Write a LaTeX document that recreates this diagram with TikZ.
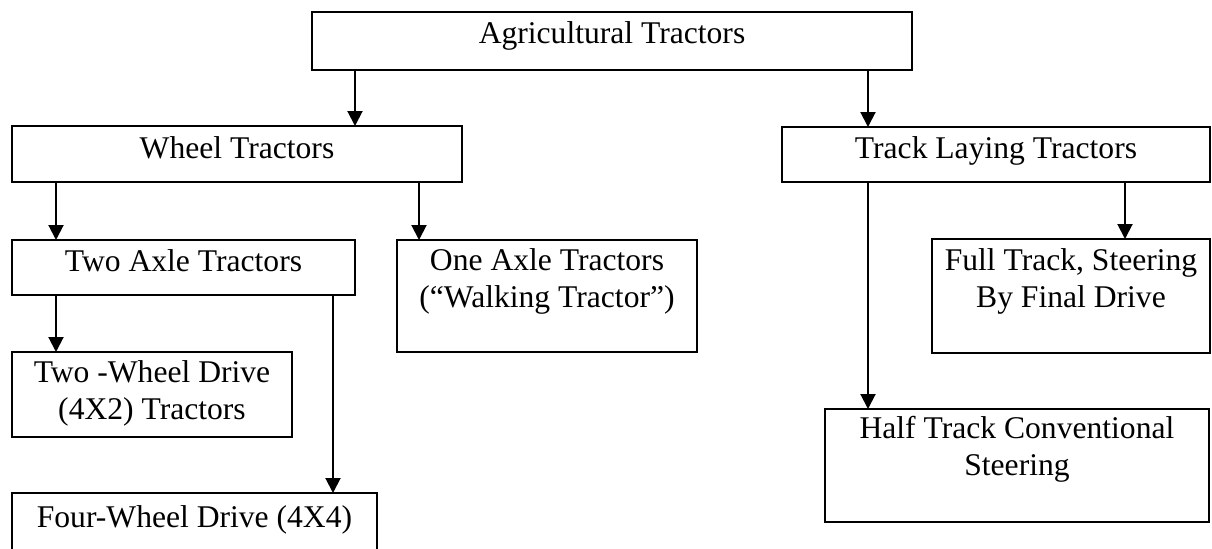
\documentclass[tikz,border=0pt]{standalone}
\usepackage{fontspec}
\setmainfont{Liberation Serif}
\usetikzlibrary{arrows.meta}
\newcommand\lineup[1]{\rule{0pt}{#1}}
\begin{document}
\begin{tikzpicture}[x=0.5pt,y=-0.5pt,
  box/.style n args={2}{draw, line width=1pt, anchor=north west, inner sep=0pt, outer sep=0pt, minimum width=#1, minimum height=#2},
  txt/.style={anchor=north, inner sep=0pt, outer sep=0pt, align=center, font=\fontsize{15.8pt}{18.75pt}\selectfont},
  arr/.style={line width=1pt, -{Triangle[length=7.5pt,width=7.5pt]}}]
\useasboundingbox (0,0) rectangle (1212,548);
\clip (0,0) rectangle (1212,548);
% boxes
\node[box={300pt}{29pt}] (top) at (312,12) {};
\node[box={225pt}{28pt}] (wheel) at (12,126) {};
\node[box={214pt}{27.5pt}] (track) at (782,127) {};
\node[box={171.5pt}{27.5pt}] (twoaxle) at (12,240) {};
\node[box={150pt}{56pt}] (oneaxle) at (397,240) {};
\node[box={140pt}{42.5pt}] (twowheel) at (12,352) {};
\node[box={182.5pt}{40pt}] (four) at (12,493) {};
\node[box={139pt}{57pt}] (full) at (932,239) {};
\node[box={192pt}{56.5pt}] (half) at (825,409) {};
% texts
\node[txt] (top-t) at (top.north) {\lineup{15.5pt}Agricultural Tractors};
\node[txt] (wheel-t) at (wheel.north) {\lineup{16pt}Wheel Tractors};
\node[txt] (track-t) at (track.north) {\lineup{15.5pt}Track Laying Tractors};
\node[txt] (twoaxle-t) at (twoaxle.north) {\lineup{15.5pt}Two Axle Tractors};
\node[txt] (oneaxle-t) at (oneaxle.north) {\lineup{15pt}One Axle Tractors\\(“Walking Tractor”)};
\node[txt] (twowheel-t) at (twowheel.north) {\lineup{15pt}Two -Wheel Drive\\(4X2) Tractors};
\node[txt] (four-t) at (four.north) {\lineup{17pt}Four-Wheel Drive (4X4)};
\node[txt] (full-t) at (full.north) {\lineup{15.5pt}Full Track, Steering\\By Final Drive};
\node[txt] (half-t) at (half.north) {\lineup{14.5pt}Half Track Conventional\\Steering};
% connectors
\draw[arr] (top.south -| 355,0) -- (wheel.north -| 355,0);
\draw[arr] (top.south -| 868,0) -- (track.north -| 868,0);
\draw[arr] (wheel.south -| 56,0) -- (twoaxle.north -| 56,0);
\draw[arr] (wheel.south -| 419,0) -- (oneaxle.north -| 419,0);
\draw[arr] (twoaxle.south -| 56,0) -- (twowheel.north -| 56,0);
\draw[arr] (twoaxle.south -| 333,0) -- (four.north -| 333,0);
\draw[arr] (track.south -| 868,0) -- (half.north -| 868,0);
\draw[arr] (track.south -| 1125,0) -- (full.north -| 1125,0);
\end{tikzpicture}
\end{document}
